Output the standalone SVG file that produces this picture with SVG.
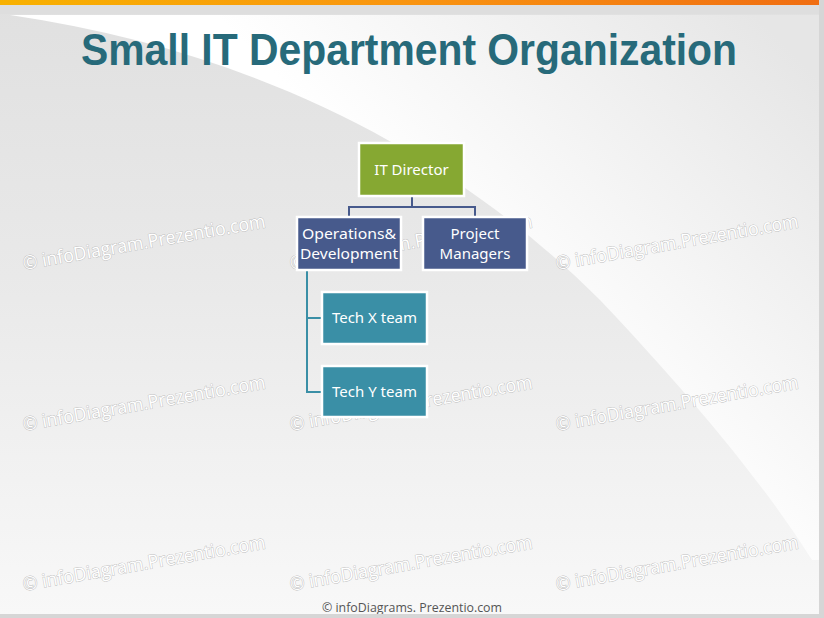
<svg xmlns="http://www.w3.org/2000/svg" width="824" height="618" viewBox="0 0 824 618">
<defs>
<linearGradient id="bar" x1="0" y1="0" x2="1" y2="0">
<stop offset="0" stop-color="#f8b100"/>
<stop offset="0.5" stop-color="#f99410"/>
<stop offset="1" stop-color="#f06d12"/>
</linearGradient>
<linearGradient id="bg" x1="0" y1="0" x2="0" y2="1">
<stop offset="0" stop-color="#e0e0e0"/>
<stop offset="0.45" stop-color="#e9e9e9"/>
<stop offset="1" stop-color="#f8f8f8"/>
</linearGradient>
<linearGradient id="hl" gradientUnits="userSpaceOnUse" x1="450" y1="250" x2="720" y2="-20">
<stop offset="0" stop-color="#ffffff"/>
<stop offset="1" stop-color="#e6e6e6"/>
</linearGradient>
<style>
.wm{font-family:"Open Sans","Noto Sans",sans-serif;font-size:19px;fill:#ffffff;stroke:#bcbcbc;stroke-width:0.9;paint-order:stroke}
.box{stroke:#ffffff;stroke-width:2.5}
.lbl{font-family:"Noto Sans","Open Sans",sans-serif;font-size:15px;fill:#ffffff;text-anchor:middle}
.c1{fill:none;stroke:#475a8c;stroke-width:2}
.c2{fill:none;stroke:#3a8fa6;stroke-width:2}
</style>
</defs>
<rect x="0" y="0" width="824" height="618" fill="#d6d6d6"/>
<rect x="0" y="0" width="819" height="614" fill="url(#bg)"/>
<path d="M10,15 C250,50 450,150 600,300 C690,395 765,485 812,560 L819,560 L819,15 Z" fill="url(#hl)"/>
<rect x="0" y="5" width="819" height="9" fill="#dcdcdc" opacity="0.6"/>
<rect x="0" y="0" width="824" height="5" fill="url(#bar)"/>
<text x="409" y="65" font-family="Liberation Sans, Arial, sans-serif" font-weight="bold" font-size="44" fill="#276a7a" text-anchor="middle" textLength="656" lengthAdjust="spacingAndGlyphs">Small IT Department Organization</text>
<g id="watermarks">
<text class="wm" transform="translate(24,270) rotate(-10)" textLength="246" lengthAdjust="spacingAndGlyphs">© infoDiagram.Prezentio.com</text>
<text class="wm" transform="translate(291,270) rotate(-10)" textLength="246" lengthAdjust="spacingAndGlyphs">© infoDiagram.Prezentio.com</text>
<text class="wm" transform="translate(557,270) rotate(-10)" textLength="246" lengthAdjust="spacingAndGlyphs">© infoDiagram.Prezentio.com</text>
<text class="wm" transform="translate(24,431) rotate(-10)" textLength="246" lengthAdjust="spacingAndGlyphs">© infoDiagram.Prezentio.com</text>
<text class="wm" transform="translate(291,431) rotate(-10)" textLength="246" lengthAdjust="spacingAndGlyphs">© infoDiagram.Prezentio.com</text>
<text class="wm" transform="translate(557,431) rotate(-10)" textLength="246" lengthAdjust="spacingAndGlyphs">© infoDiagram.Prezentio.com</text>
<text class="wm" transform="translate(24,591) rotate(-10)" textLength="246" lengthAdjust="spacingAndGlyphs">© infoDiagram.Prezentio.com</text>
<text class="wm" transform="translate(291,591) rotate(-10)" textLength="246" lengthAdjust="spacingAndGlyphs">© infoDiagram.Prezentio.com</text>
<text class="wm" transform="translate(557,591) rotate(-10)" textLength="246" lengthAdjust="spacingAndGlyphs">© infoDiagram.Prezentio.com</text>
</g>
<g id="connectors">
<path class="c1" d="M412,196 V207 M349,207 H475 M349,206 V217 M475,206 V217"/>
<path class="c2" d="M307,270 V392 M306,318 H322 M306,392 H322"/>
</g>
<g id="it-director">
<rect class="box" x="359" y="143" width="105" height="53" fill="#86a832"/>
<text class="lbl" x="411.5" y="175">IT Director</text>
</g>
<g id="operations-development">
<rect class="box" x="297" y="217" width="104" height="53" fill="#475a8c"/>
<text class="lbl" x="349" y="239" textLength="94" lengthAdjust="spacingAndGlyphs">Operations&amp;</text>
<text class="lbl" x="349" y="259" textLength="98" lengthAdjust="spacingAndGlyphs">Development</text>
</g>
<g id="project-managers">
<rect class="box" x="423" y="217" width="104" height="53" fill="#475a8c"/>
<text class="lbl" x="475" y="239">Project</text>
<text class="lbl" x="475" y="259">Managers</text>
</g>
<g id="tech-x-team">
<rect class="box" x="322" y="292" width="105" height="52" fill="#3a8fa6"/>
<text class="lbl" x="374.5" y="323">Tech X team</text>
</g>
<g id="tech-y-team">
<rect class="box" x="322" y="366" width="105" height="51" fill="#3a8fa6"/>
<text class="lbl" x="374.5" y="397">Tech Y team</text>
</g>
<text x="412" y="612" font-family="Open Sans, Noto Sans, sans-serif" font-size="12.5" fill="#555555" text-anchor="middle" textLength="180" lengthAdjust="spacingAndGlyphs">© infoDiagrams. Prezentio.com</text>
<rect x="819" y="0" width="5" height="618" fill="#d6d6d6"/>
<rect x="0" y="614" width="824" height="4" fill="#d6d6d6"/>
</svg>
